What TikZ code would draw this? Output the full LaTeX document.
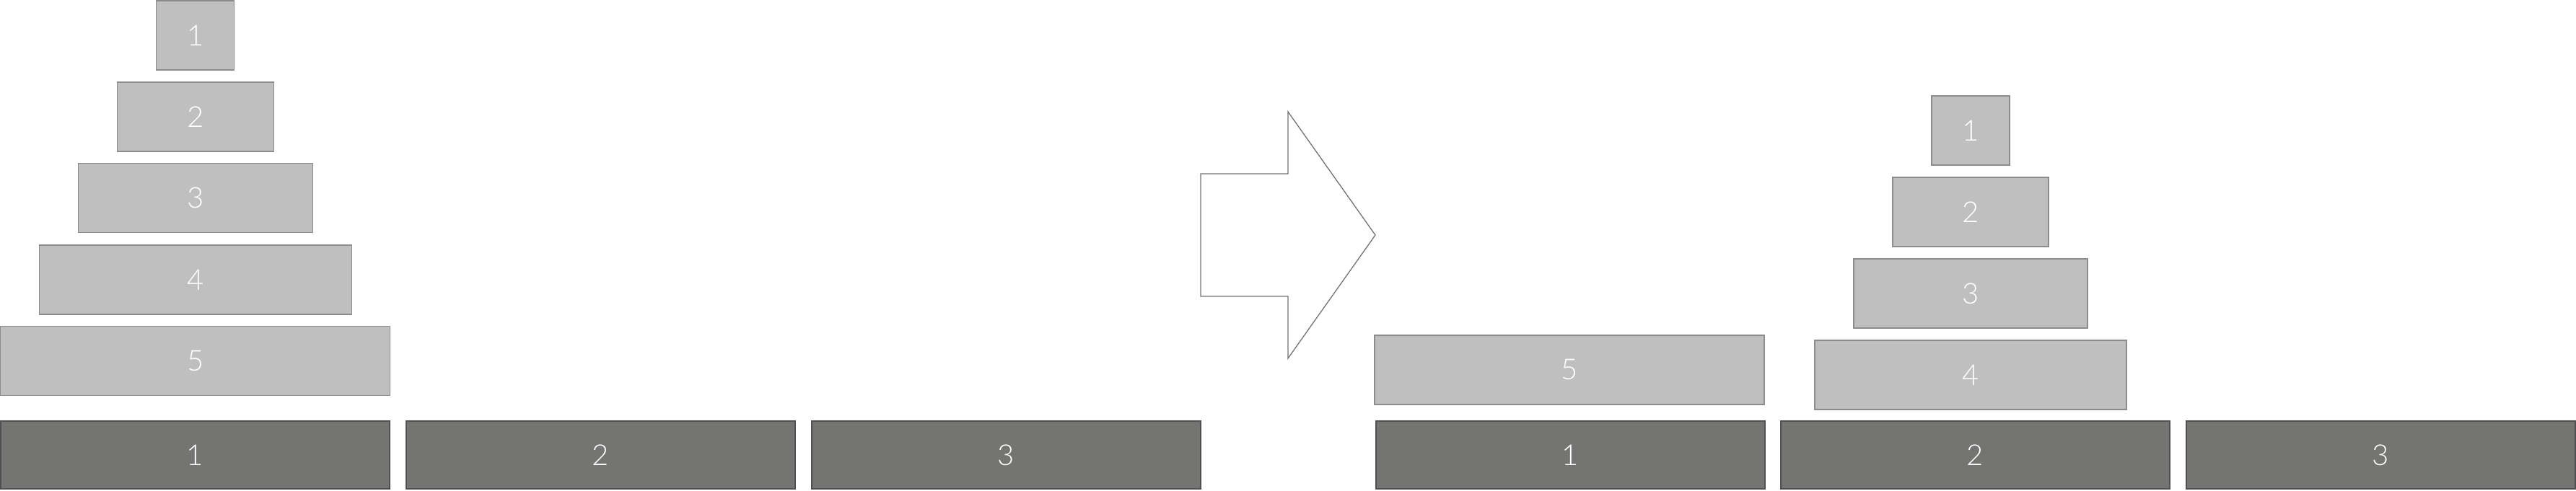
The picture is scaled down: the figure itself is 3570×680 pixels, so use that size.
\documentclass[tikz,border=0pt]{standalone}
\usepackage{fontspec}
\newfontfamily\lightfont{Lato Light}
\definecolor{diskfill}{HTML}{BFBFBF}
\definecolor{diskline}{HTML}{8C8C8C}
\definecolor{pegfill}{HTML}{747572}
\definecolor{pegline}{HTML}{505050}
\definecolor{arrowline}{HTML}{737373}
\begin{document}
\begin{tikzpicture}[x=1pt,y=-1pt,
  disk/.style={draw=diskline, fill=diskfill, line width=1.2pt, minimum height=96pt, inner sep=0pt,
    text=white, font=\lightfont\fontsize{40}{40}\selectfont},
  peg/.style={draw=pegline, fill=pegfill, line width=2pt, minimum width=539pt, minimum height=94pt, inner sep=0pt,
    text=white, font=\lightfont\fontsize{40}{40}\selectfont},
  bigarrow/.style={draw=arrowline, fill=white, line width=1.3pt, line join=miter}]
\useasboundingbox (0,0) rectangle (3570,680);
% left state
\node[peg] (lp1) at (270.5,631) {1};
\node[peg] (lp2) at (832.5,631) {2};
\node[peg] (lp3) at (1394.5,631) {3};
\node[disk, minimum width=108pt] (ld1) at (270.7,49) {1};
\node[disk, minimum width=217pt] (ld2) at (270.7,162) {2};
\node[disk, minimum width=325pt] (ld3) at (270.7,274.5) {3};
\node[disk, minimum width=433pt] (ld4) at (270.7,388) {4};
\node[disk, minimum width=540pt] (ld5) at (270.7,500.7) {5};
% arrow
\draw[bigarrow] (1664,241) -- (1785,241) -- (1785,155) -- (1906,326) -- (1785,497) -- (1785,411) -- (1664,411) -- cycle;
% right state
\node[peg] (rp1) at (2176,631) {1};
\node[peg] (rp2) at (2737,631) {2};
\node[peg] (rp3) at (3299,631) {3};
\node[disk, minimum width=540pt] (rd5) at (2175,513) {5};
\node[disk, minimum width=108pt] (rd1) at (2731,181) {1};
\node[disk, minimum width=216pt] (rd2) at (2731,294) {2};
\node[disk, minimum width=324pt] (rd3) at (2731,407) {3};
\node[disk, minimum width=432pt] (rd4) at (2731,520) {4};
\end{tikzpicture}
\end{document}
